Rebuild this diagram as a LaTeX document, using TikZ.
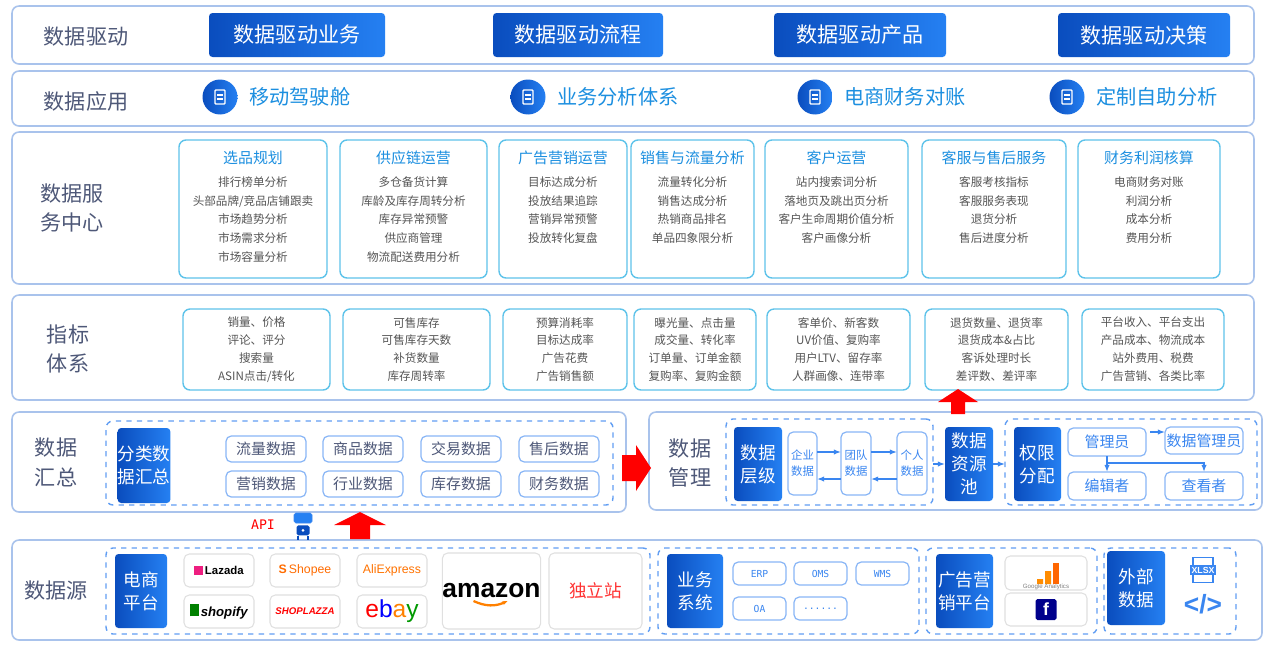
\documentclass[tikz,border=0pt]{standalone}
\usepackage{fontspec}
\setmainfont{Noto Sans CJK SC}
\newfontfamily\monofnt{DejaVu Sans Mono}
\newfontfamily\latinfnt{Liberation Sans}
\usetikzlibrary{positioning, arrows.meta, shapes.geometric}
\definecolor{bandline}{HTML}{A9C3EC}
\definecolor{cardline}{HTML}{5EC3EA}
\definecolor{darkblue}{HTML}{0A4DBE}
\definecolor{lightblue}{HTML}{2580F2}
\definecolor{titleblue}{HTML}{1C8FE0}
\definecolor{labelgray}{HTML}{4E5878}
\definecolor{itemgray}{HTML}{555555}
\definecolor{linkblue}{HTML}{3A86F0}
\tikzset{
  band/.style = {draw=bandline, line width=0.9pt, rounded corners=4pt, fill=white},
  card/.style = {draw=cardline, line width=0.8pt, rounded corners=4pt, fill=white, align=center},
  bluebox/.style = {left color=darkblue, right color=lightblue, rounded corners=2pt, text=white, align=center, font=\fontsize{10}{13}\selectfont},
  wbox/.style = {draw=linkblue!60, line width=0.7pt, rounded corners=3pt, fill=white, align=center},
  dashbox/.style = {draw=linkblue!80, dashed, line width=0.8pt, rounded corners=4pt},
  logo/.style = {draw=black!12, line width=0.6pt, rounded corners=3pt, fill=white, align=center},
  seclabel/.style = {text=labelgray, font=\fontsize{12}{17}\selectfont, align=center},
  link/.style = {-{Latex[length=4pt]}, linkblue, line width=0.8pt},
  redup/.style = {fill=red, draw=none},
  itemfont/.style = {font=\fontsize{6.6}{10.6}\selectfont}
}
\newcommand{\pbox}[7]{\node[#1, inner sep=0pt, outer sep=0pt,
  minimum width={((#5)-(#3))*0.02cm}, minimum height={((#6)-(#4))*0.02cm}]
  (#2) at ({((#3)+(#5))/2},{((#4)+(#6))/2}) {#7};}
\newcommand{\kcard}[4]{\pbox{card, text=itemgray, font=\fontsize{6.6}{10.2}\selectfont}{#3}{#1}{309}{#2}{390}{#4}}
\begin{document}
\begin{tikzpicture}[x=0.02cm, y=-0.02cm]
\useasboundingbox[fill=white] (0,0) rectangle (1280,646);

% bands
\pbox{band}{bDrive}{12}{6}{1254}{64}{}
\pbox{band}{bApp}{12}{71}{1254}{126}{}
\pbox{band}{bSvc}{12}{132}{1254}{284}{}
\pbox{band}{bKpi}{12}{295}{1254}{400}{}
\pbox{band}{bSum}{12}{412}{626}{512}{}
\pbox{band}{bMgr}{649}{412}{1262}{510}{}
\pbox{band}{bSrc}{12}{540}{1262}{640}{}

% section labels
\node[seclabel] (lDrive) at (86,37) {数据驱动};
\node[seclabel] (lApp) at (86,101) {数据应用};
\node[seclabel] (lSvc) at (72,208) {数据服\\务中心};
\node[seclabel] (lKpi) at (68,349) {指标\\体系};
\node[seclabel] (lSum) at (56,462) {数据\\汇总};
\node[seclabel] (lMgr) at (690,463) {数据\\管理};
\node[seclabel] (lSrc) at (56,590) {数据源};

% row 1
\pbox{bluebox, font=\fontsize{12}{14}\selectfont}{d1}{209}{13}{385}{57}{数据驱动业务}
\pbox{bluebox, font=\fontsize{12}{14}\selectfont}{d2}{493}{13}{663}{57}{数据驱动流程}
\pbox{bluebox, font=\fontsize{12}{14}\selectfont}{d3}{774}{13}{946}{57}{数据驱动产品}
\pbox{bluebox, font=\fontsize{12}{14}\selectfont}{d4}{1058}{13}{1230}{57}{数据驱动决策}

% row 2
\foreach \cx/\name/\txt in {220/a1/移动驾驶舱, 528/a2/业务分析体系, 815/a3/电商财务对账, 1067/a4/定制自助分析}{
  \node[circle, left color=darkblue, right color=lightblue, minimum size=0.7cm, inner sep=0pt] (\name) at (\cx,97) {};
  \draw[white, line width=0.8pt, rounded corners=0.5pt] ([shift={(-5,-7)}]\name.center) rectangle ([shift={(5,7)}]\name.center);
  \draw[white, line width=0.8pt] ([shift={(-3,-2)}]\name.center) -- ([shift={(3,-2)}]\name.center)
     ([shift={(-3,2)}]\name.center) -- ([shift={(3,2)}]\name.center);
  \node[right=3pt of \name, text=titleblue, font=\fontsize{11.5}{14}\selectfont] (\name t) {\txt};
}

% row 3 cards
\foreach \xa/\xb/\name/\ttl/\body in {
  179/327/s1/选品规划/{排行榜单分析\\头部品牌/竞品店铺跟卖\\市场趋势分析\\市场需求分析\\市场容量分析},
  340/487/s2/供应链运营/{多仓备货计算\\库龄及库存周转分析\\库存异常预警\\供应商管理\\物流配送费用分析},
  499/627/s3/广告营销运营/{目标达成分析\\投放结果追踪\\营销异常预警\\投放转化复盘},
  631/754/s4/销售与流量分析/{流量转化分析\\销售达成分析\\热销商品排名\\单品四象限分析},
  765/908/s5/客户运营/{站内搜索词分析\\落地页及跳出页分析\\客户生命周期价值分析\\客户画像分析},
  922/1066/s6/客服与售后服务/{客服考核指标\\客服服务表现\\退货分析\\售后进度分析},
  1078/1220/s7/财务利润核算/{电商财务对账\\利润分析\\成本分析\\费用分析}}{
  \pbox{card}{\name}{\xa}{140}{\xb}{278}{}
  \node[text=titleblue, font=\fontsize{8.5}{10}\selectfont] (\name t) at ({(\xa+\xb)/2},158) {\ttl};
  \node[below=2pt of \name t, align=center, inner sep=1pt, text=itemgray, itemfont] (\name b) {\body};
}

% row 4 cards
\kcard{183}{330}{k1}{销量、价格\\评论、评分\\搜索量\\ASIN点击/转化}
\kcard{343}{490}{k2}{可售库存\\可售库存天数\\补货数量\\库存周转率}
\kcard{503}{627}{k3}{预算消耗率\\目标达成率\\广告花费\\广告销售额}
\kcard{634}{756}{k4}{曝光量、点击量\\成交量、转化率\\订单量、订单金额\\复购率、复购金额}
\kcard{767}{910}{k5}{客单价、新客数\\UV价值、复购率\\用户LTV、留存率\\人群画像、连带率}
\kcard{925}{1068}{k6}{退货数量、退货率\\退货成本\&占比\\客诉处理时长\\差评数、差评率}
\kcard{1082}{1224}{k7}{平台收入、平台支出\\产品成本、物流成本\\站外费用、税费\\广告营销、各类比率}

% data summary
\pbox{dashbox}{sumArea}{106}{421}{613}{505}{}
\pbox{bluebox}{sumHead}{118}{428}{170}{503}{分类数\\据汇总}
\foreach \cx/\cy/\name/\txt in {266/449/t1/流量数据, 363/449/t2/商品数据, 461/449/t3/交易数据, 559/449/t4/售后数据,
  266/484/t5/营销数据, 363/484/t6/行业数据, 461/484/t7/库存数据, 559/484/t8/财务数据}{
  \pbox{wbox, text=labelgray, font=\fontsize{8.5}{10}\selectfont}{\name}{\cx-40}{\cy-13}{\cx+40}{\cy+13}{\txt}
}

% data management
\pbox{dashbox}{lvlArea}{726}{419}{933}{505}{}
\pbox{bluebox}{lvlHead}{734}{427}{782}{501}{数据\\层级}
\pbox{wbox, font=\fontsize{6.5}{9}\selectfont, text=linkblue}{ent}{788}{432}{817}{495}{企业\\数据}
\pbox{wbox, font=\fontsize{6.5}{9}\selectfont, text=linkblue}{team}{841}{432}{871}{495}{团队\\数据}
\pbox{wbox, font=\fontsize{6.5}{9}\selectfont, text=linkblue}{self}{897}{432}{927}{495}{个人\\数据}
\draw[link] (ent.east |- 0,452) -- (team.west |- 0,452);
\draw[link] (team.east |- 0,452) -- (self.west |- 0,452);
\draw[link] (self.west |- 0,479) -- (team.east |- 0,479);
\draw[link] (team.west |- 0,479) -- (ent.east |- 0,479);
\pbox{bluebox}{pool}{945}{427}{993}{501}{数据\\资源\\池}
\draw[link] (lvlArea.east |- pool.center) -- (pool.west);
\pbox{dashbox}{authArea}{1005}{419}{1257}{505}{}
\draw[link] (pool.east) -- (authArea.west |- pool.center);
\pbox{bluebox}{auth}{1014}{427}{1061}{501}{权限\\分配}
\pbox{wbox, text=linkblue, font=\fontsize{8.5}{10}\selectfont}{admin}{1068}{428}{1146}{456}{管理员}
\pbox{wbox, text=linkblue, font=\fontsize{8.5}{10}\selectfont}{dadmin}{1165}{427}{1243}{454}{数据管理员}
\pbox{wbox, text=linkblue, font=\fontsize{8.5}{10}\selectfont}{editor}{1068}{472}{1146}{500}{编辑者}
\pbox{wbox, text=linkblue, font=\fontsize{8.5}{10}\selectfont}{viewer}{1165}{472}{1243}{500}{查看者}
\draw[link] (1150,432) -- (dadmin.west |- 0,432);
\draw[link] (admin.south) -- (editor.north);
\draw[link] (admin.south |- 0,463) -| (viewer.north);

% red arrows
\draw[redup] (622,455) -- (636,455) -- (636,445) -- (651,468) -- (636,491) -- (636,481) -- (622,481) -- cycle;
\draw[redup] (951,414) -- (951,402) -- (938,402) -- (958,389) -- (978,402) -- (965,402) -- (965,414) -- cycle;
\draw[redup] (350,539) -- (350,525) -- (334,525) -- (360,512) -- (386,525) -- (370,525) -- (370,539) -- cycle;

% API and robot
\node[text=red, font=\monofnt\fontsize{7.5}{9}\selectfont] (api) at (263,525) {API};
\node[draw=linkblue, fill=lightblue, rounded corners=1pt, minimum width=0.36cm, minimum height=0.2cm, inner sep=0pt] (robotHead) at (303,518) {};
\node[fill=darkblue, rounded corners=1pt, minimum width=0.26cm, minimum height=0.2cm, inner sep=0pt, below=1pt of robotHead] (robotBody) {};
\fill[white] (robotBody.center) circle (1.5);
\draw[darkblue, line width=1.2pt] ([xshift=-3]robotBody.south) -- ++(0,4) ([xshift=3]robotBody.south) -- ++(0,4);

% data sources
\pbox{dashbox}{ecArea}{106}{548}{650}{634}{}
\pbox{bluebox}{ec}{115}{554}{167}{628}{电商\\平台}
\pbox{logo, font=\latinfnt\fontsize{6.5}{8}\selectfont\bfseries}{lz}{184}{554}{254}{587}{{\color{magenta!80!orange}\rule{5pt}{5pt}}\,Lazada}
\pbox{logo, font=\latinfnt\fontsize{7.5}{9}\selectfont\bfseries}{sf}{184}{595}{254}{628}{{\color{green!50!black}\rule{5pt}{7pt}}\,\textit{shopify}}
\pbox{logo, font=\latinfnt\fontsize{7}{9}\selectfont, text=orange!85!red}{sp}{270}{554}{340}{587}{\textbf{S}\,Shopee}
\pbox{logo, font=\latinfnt\fontsize{5.5}{7}\selectfont\bfseries\itshape, text=red}{sl}{270}{595}{340}{628}{SHOPLAZZA}
\pbox{logo, font=\latinfnt\fontsize{7}{9}\selectfont, text=orange!90!red}{ae}{357}{554}{427}{587}{AliExpress}
\pbox{logo, font=\latinfnt\fontsize{14}{16}\selectfont}{eb}{357}{595}{427}{628}{{\color{red}e}{\color{blue}b}{\color{orange}a}{\color{green!60!black}y}}
\pbox{logo, font=\latinfnt\fontsize{15}{17}\selectfont\bfseries}{amz}{445}{553}{538}{629}{amazon}
\draw[orange, line width=1.3pt, -{Stealth[length=3pt]}] ([shift={(-18,10)}]amz.center) to[bend right=25] ([shift={(16,10)}]amz.center);
\pbox{logo, font=\fontsize{10}{12}\selectfont, text=red!80}{indie}{549}{553}{642}{629}{独立站}

\pbox{dashbox}{bizArea}{658}{548}{919}{634}{}
\pbox{bluebox}{biz}{667}{554}{723}{628}{业务\\系统}
\foreach \xa/\ya/\name/\txt in {733/562/erp/ERP, 794/562/oms/OMS, 856/562/wms/WMS, 733/597/oa/OA}{
  \pbox{wbox, font=\monofnt\fontsize{5.5}{7}\selectfont, text=linkblue}{\name}{\xa}{\ya}{\xa+53}{\ya+23}{\txt}
}
\pbox{wbox, font=\monofnt\fontsize{5.5}{7}\selectfont, text=linkblue}{more}{794}{597}{847}{620}{......}

\pbox{dashbox}{adArea}{926}{548}{1097}{634}{}
\pbox{bluebox}{ad}{936}{554}{993}{628}{广告营\\销平台}
\pbox{logo}{ga}{1005}{556}{1087}{590}{}
\fill[orange!90!yellow] (1037,579) rectangle (1043,584) (1045,571) rectangle (1051,584);
\fill[orange!80!red] (1053,563) rectangle (1059,584);
\node[font=\latinfnt\fontsize{3.5}{4}\selectfont, text=gray] (gat) at (1046,587) {Google Analytics};
\pbox{logo}{fb}{1005}{593}{1087}{626}{}
\node[fill=blue!55!black, rounded corners=1pt, minimum size=0.42cm, inner sep=0pt, text=white, font=\latinfnt\bfseries] (fbicon) at (fb.center) {f};

\pbox{dashbox}{extArea}{1104}{548}{1236}{634}{}
\pbox{bluebox}{ext}{1107}{551}{1165}{625}{外部\\数据}
\node[draw=linkblue, line width=0.8pt, minimum width=0.4cm, minimum height=0.5cm, inner sep=0pt] (xdoc) at (1203,570) {};
\node[fill=linkblue, text=white, font=\latinfnt\bfseries\fontsize{5}{6}\selectfont, inner sep=1pt] (xlsx) at (xdoc.center) {XLSX};
\node[text=linkblue, font=\latinfnt\fontsize{15}{17}\selectfont\bfseries] (code) at (1203,604) {</>};
\end{tikzpicture}
\end{document}
